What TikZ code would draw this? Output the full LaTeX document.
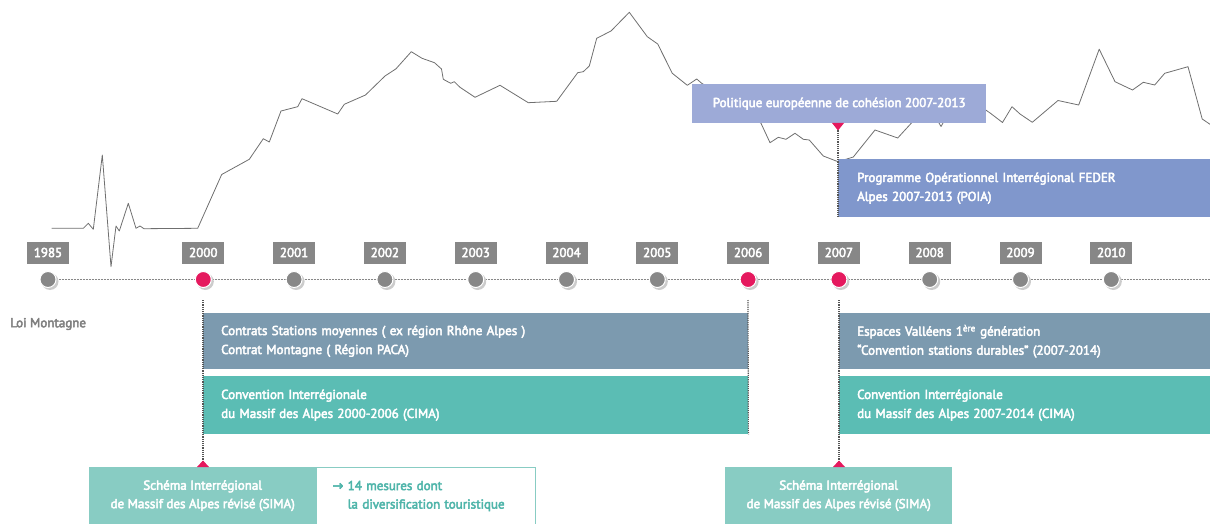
\documentclass[tikz,border=0pt]{standalone}
\usepackage{fontspec}
\setmainfont{PT Sans}[BoldFont={PT Sans},BoldFeatures={FakeBold=3.5}]
\newfontfamily\arrowfont{DejaVu Sans}[BoldFont={DejaVu Sans},BoldFeatures={FakeBold=3.5}]
\definecolor{yeargray}{HTML}{878787}
\definecolor{pinkred}{HTML}{E5195E}
\definecolor{bluegray}{HTML}{7C9AAF}
\definecolor{tealband}{HTML}{5BBDB4}
\definecolor{tealsoft}{HTML}{88CCC3}
\definecolor{tealtext}{HTML}{4FB5AA}
\definecolor{politique}{HTML}{9DAAD7}
\definecolor{poia}{HTML}{8097CC}
\definecolor{loitext}{HTML}{7F7F7F}
\definecolor{chartline}{HTML}{6F6F6F}
\definecolor{dotline}{HTML}{555555}
\begin{document}
\begin{tikzpicture}[x=1pt,y=-1pt,
  yearlbl/.style={fill=yeargray,text=white,minimum width=42pt,minimum height=22pt,inner sep=0pt,font=\fontsize{13}{14}\selectfont\bfseries},
  yeardot/.style={circle,minimum size=16pt,inner sep=0pt,draw=white,line width=1pt},
  band/.style={anchor=north west,inner ysep=0pt,align=left,text=white,font=\fontsize{13}{19}\selectfont\bfseries},
  vdots/.style={densely dotted,line width=1.2pt,draw=dotline},
  tick/.style={fill=pinkred,draw=none}]
\useasboundingbox (0,0) rectangle (1210,524);

% chart line
\draw[chartline,line width=0.8pt,line join=round]
 (51.7,228.3) -- (83.3,228.3) -- (88.3,223.3) -- (93.3,229.3) -- (102.3,155) -- (111,266.7) -- (116,226) -- (119.3,231) -- (128.3,203.3) -- (136,228.3) -- (140,226) -- (144,228.7) -- (197.7,228.3) -- (221.7,174.5) -- (249.3,159.3) -- (263.3,138.7) -- (269.3,142) -- (281,111) -- (297.7,106.7) -- (302,98.7) -- (337.7,114) -- (344.3,104.3) -- (365.5,95) -- (385,76) -- (396,68.8) -- (411.3,51.7) -- (422,58.3) -- (434.5,62.7) -- (441.5,69) -- (443.3,79.3) -- (450.7,83.3) -- (454.3,81.7) -- (460,87.3) -- (475,97.3) -- (500,85.3) -- (528.3,102.7) -- (556.7,101.3) -- (577.7,72.7) -- (583.3,71.7) -- (589.3,66) -- (596.7,38.3) -- (611,31) -- (629.3,12.3) -- (647.3,36.7) -- (657.7,44) -- (672.3,73.3) -- (687.3,85.3) -- (696.7,79) -- (701.7,83.3) -- (730,100) -- (761,123.3) -- (770,142.7) -- (778.3,137.3) -- (786,139.3) -- (795,133.3) -- (803.3,139.3) -- (809.3,140) -- (823.3,156) -- (838,161.7) -- (853.3,157) -- (875,130) -- (897.7,138) -- (911.7,122.7) -- (935,116) -- (941,126.5) -- (947,116) -- (985.7,110) -- (990.5,113.3) -- (1002.5,122.5) -- (1012,106.7) -- (1020,114) -- (1032.3,122.3) -- (1058,100.5) -- (1078.7,105) -- (1099.2,49.2) -- (1115,81.7) -- (1132.5,90) -- (1143.3,82.3) -- (1154.7,85) -- (1164.7,73.3) -- (1188,66.7) -- (1202.2,119) -- (1210,124.3);

% upper boxes
\node[band,fill=politique,minimum width=294pt,minimum height=39pt,inner xsep=20pt] (pol) at (692,84) {Politique européenne de cohésion 2007-2013};
\fill[tick] (832,123) -- (844,123) -- (838,130.5) -- cycle;
\coordinate (poltick) at (838,130.5);
\node[band,fill=poia,minimum width=372pt,minimum height=58pt,inner xsep=19pt,text width=334pt] (poiabox) at (838,159) {Programme Opérationnel Interrégional FEDER\\Alpes 2007-2013 (POIA)};
\draw[vdots] (poltick) -- (poiabox.south west);

% timeline
\coordinate (tlend) at (1210,279.5);
\draw[yeargray,line width=0.5pt,densely dotted] (48,279.5) -- (tlend);
\foreach \yr/\xx/\cc in {1985/48/yeargray,2000/203.3/pinkred,2001/294.1/yeargray,2002/384.9/yeargray,2003/475.7/yeargray,2004/566.5/yeargray,2005/657.3/yeargray,2006/748.1/pinkred,2007/838.9/pinkred,2008/929.7/yeargray,2009/1020.5/yeargray,2010/1111.3/yeargray}{
  \node[yearlbl] (y\yr) at (\xx,252.5) {\yr};
  \fill[black!20] (\xx+2,281.5) circle (8.5pt);
  \node[yeardot,fill=\cc] (d\yr) at (\xx,279.5) {};
}

\node[anchor=west,text=loitext,inner sep=0pt,font=\fontsize{13}{14}\selectfont\bfseries] (loi) at (10,324) {Loi Montagne};

% lower bands
\node[band,fill=bluegray,minimum width=545pt,minimum height=56pt,inner xsep=18pt,text width=509pt] (csm) at (203,313) {Contrats Stations moyennes ( ex région Rhône Alpes )\\Contrat Montagne ( Région PACA)};
\node[band,fill=tealband,minimum width=545pt,minimum height=58pt,inner xsep=18pt,text width=509pt] (cima1) at (203,376) {Convention Interrégionale\\du Massif des Alpes 2000-2006 (CIMA)};
\node[band,fill=bluegray,minimum width=371pt,minimum height=56pt,inner xsep=18pt,text width=335pt] (ev) at (839,313) {Espaces Valléens 1\textsuperscript{ère} génération\\“Convention stations durables” (2007-2014)};
\node[band,fill=tealband,minimum width=371pt,minimum height=58pt,inner xsep=18pt,text width=335pt] (cima2) at (839,376) {Convention Interrégionale\\du Massif des Alpes 2007-2014 (CIMA)};

% SIMA boxes
\node[anchor=north west,fill=tealsoft,text=white,minimum width=227pt,minimum height=57pt,inner sep=0pt,align=center,font=\fontsize{13}{18.5}\selectfont\bfseries] (sima1) at (89,467) {Schéma Interrégional\\de Massif des Alpes révisé (SIMA)};
\node[anchor=north west,fill=white,draw=tealsoft,line width=1pt,text=tealtext,minimum width=219pt,minimum height=57pt,inner xsep=16pt,inner ysep=0pt,text width=187pt,align=left,font=\fontsize{13}{18.5}\selectfont\bfseries] (mes) at (316,467) {{\arrowfont\bfseries →}\ 14 mesures dont\\\phantom{{\arrowfont\bfseries →}\ }la diversification touristique};
\node[anchor=north west,fill=tealsoft,text=white,minimum width=227pt,minimum height=57pt,inner sep=0pt,align=center,font=\fontsize{13}{18.5}\selectfont\bfseries] (sima2) at (725,467) {Schéma Interrégional\\de Massif des Alpes révisé (SIMA)};

% dotted verticals and markers
\coordinate (v2000top) at (203,300);
\coordinate (v2006top) at (748,300);
\coordinate (v2007top) at (839,300);
\coordinate (t2000) at (203,461.5);
\coordinate (t2007) at (839,461.5);
\draw[vdots] (v2000top) -- (t2000);
\draw[vdots] (v2006top) -- (cima1.south east);
\draw[vdots] (v2007top) -- (t2007);
\fill[tick] (197,467) -- (209,467) -- (203,460.5) -- cycle;
\fill[tick] (833,467) -- (845,467) -- (839,460.5) -- cycle;
\end{tikzpicture}
\end{document}
